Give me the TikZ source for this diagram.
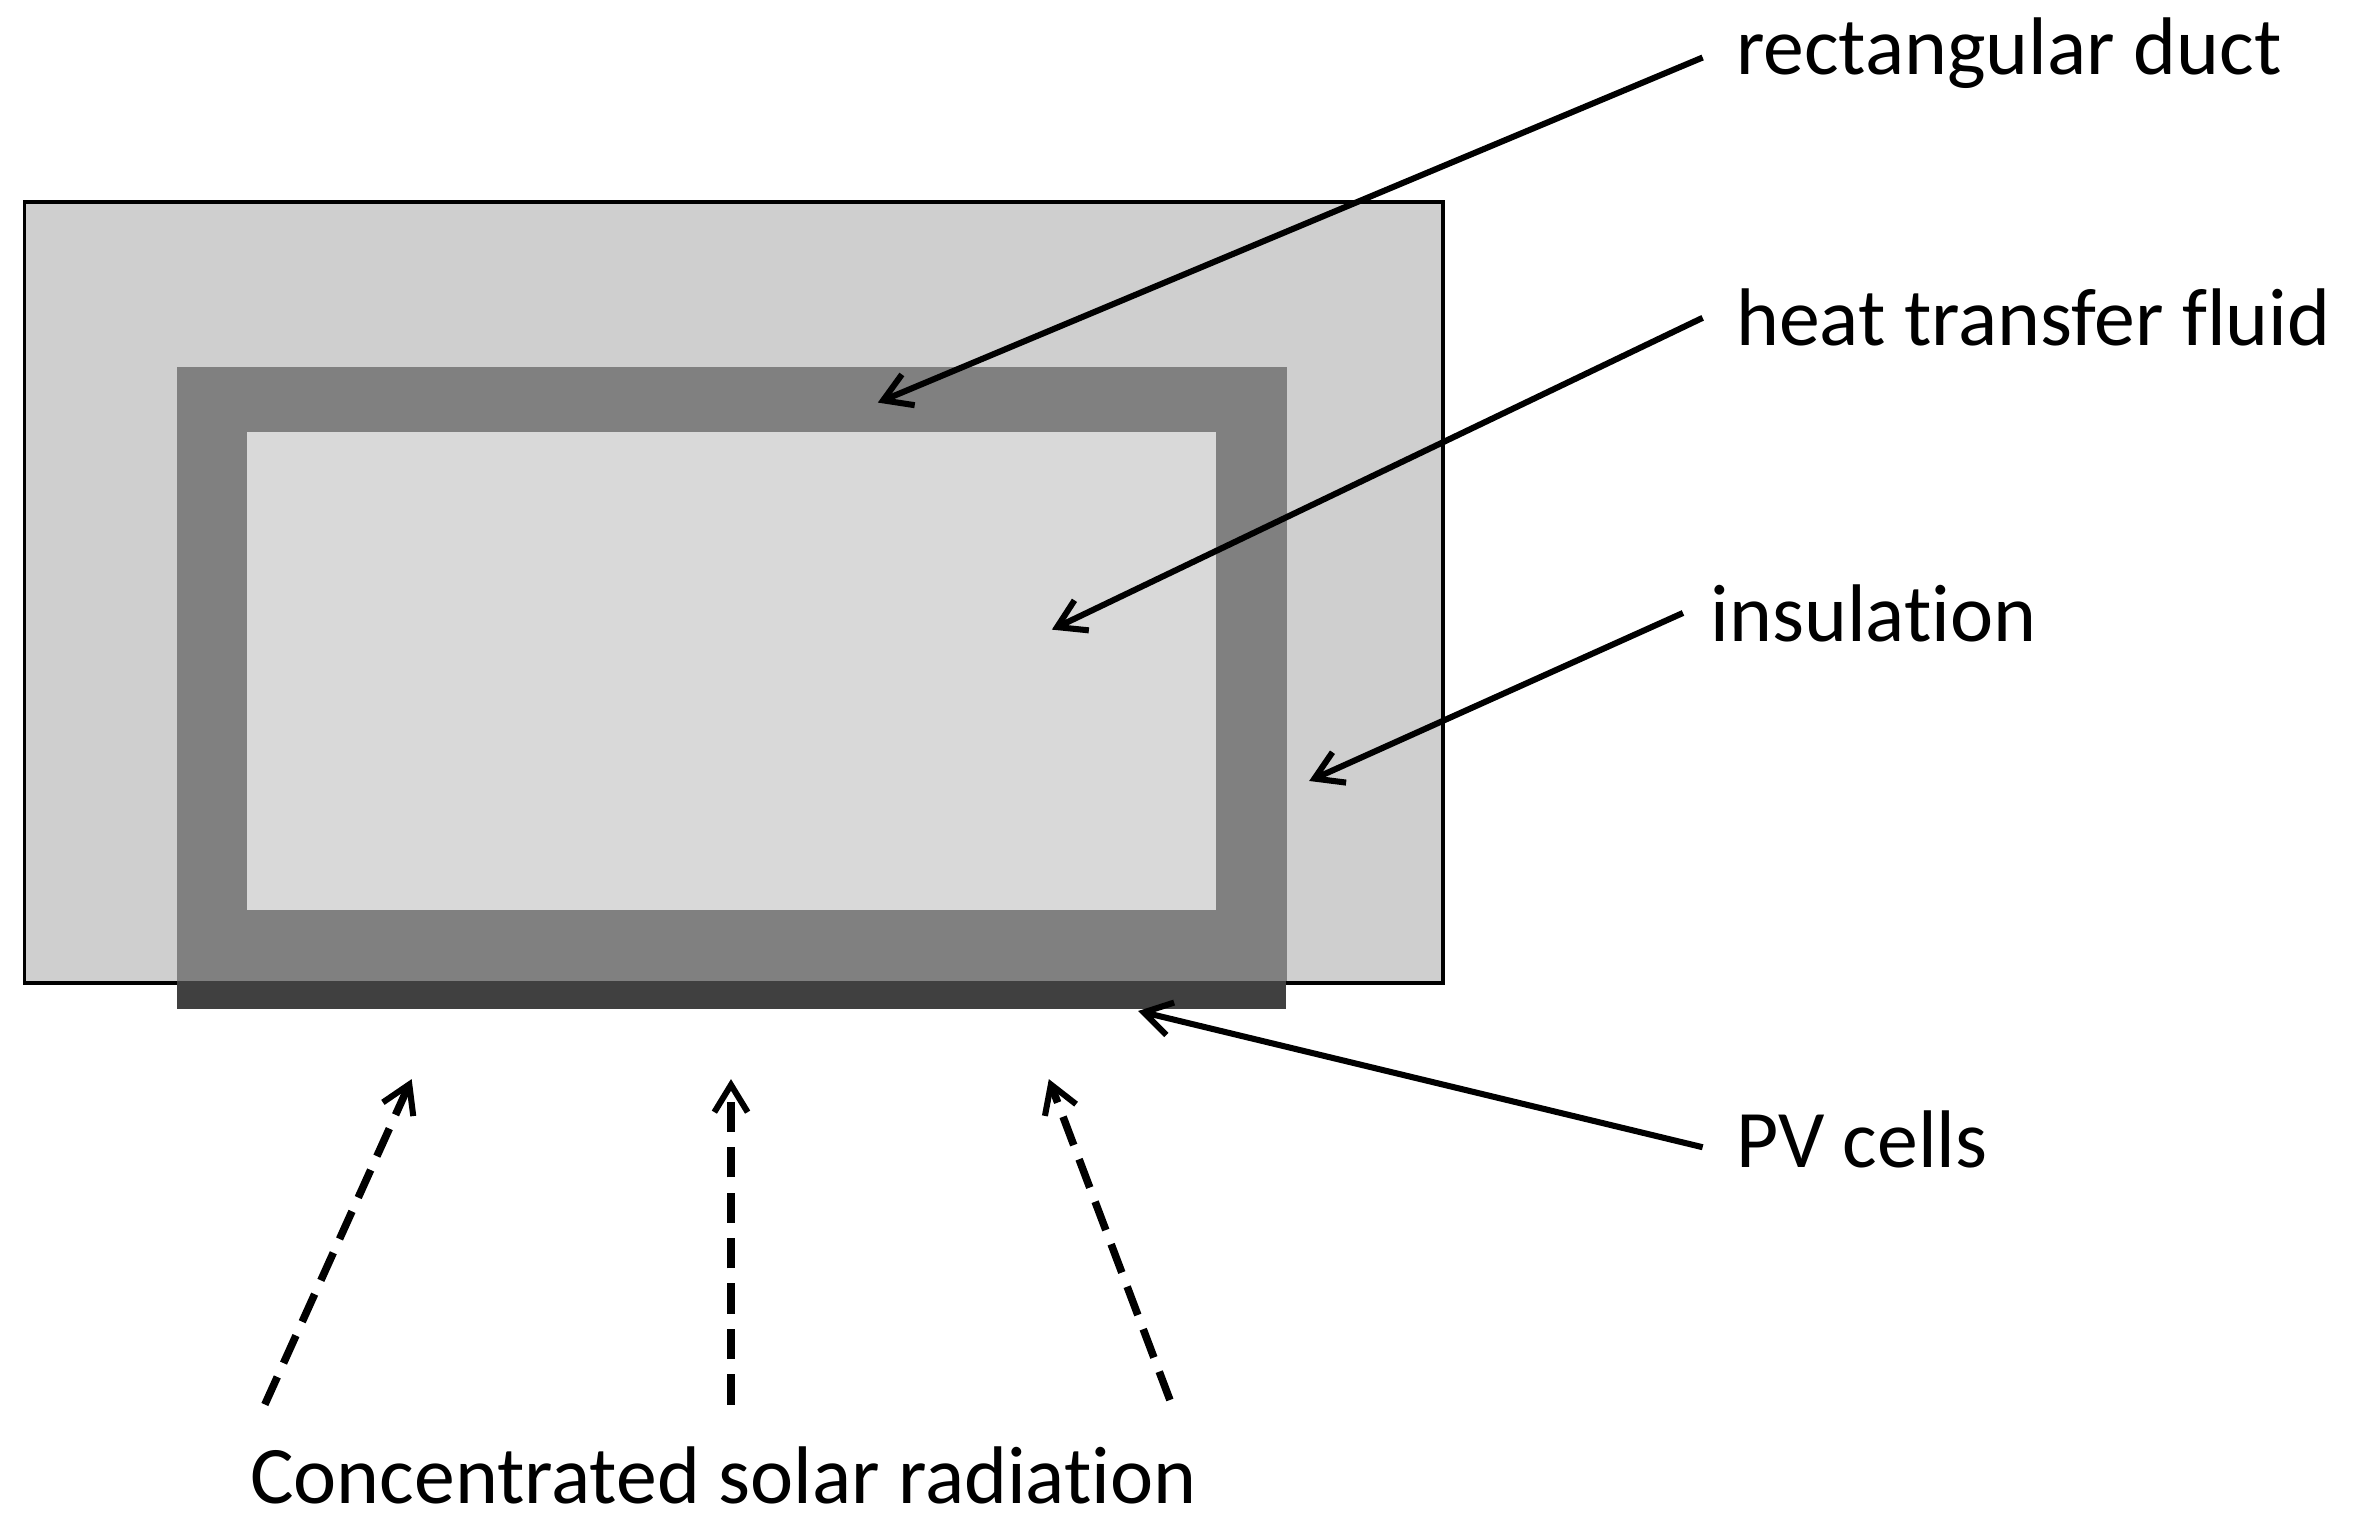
\documentclass[tikz,border=0pt]{standalone}
\usepackage{fontspec}
\setmainfont{Carlito}[RawFeature=-liga]
\usetikzlibrary{arrows.meta}
\begin{document}
\begin{tikzpicture}[x=1pt,y=-1pt,
 lab/.style={anchor=west,inner sep=0pt,font=\fontsize{54}{60}\selectfont},
 arr/.style={line width=4pt,-{Straight Barb[length=18pt,width=22pt,line width=4pt]}},
 darr/.style={arr,line width=5pt,dash pattern=on 20pt off 10pt}]
\useasboundingbox (0,0) rectangle (1560,1004);
\fill[white] (0,0) rectangle (1560,1004);
\node[draw=black,line width=2.5pt,fill=gray!38,minimum width=937pt,minimum height=516pt,anchor=north west,inner sep=0pt] (ins) at (15,132) {};
\node[fill=black!50,minimum width=733pt,minimum height=406pt,anchor=north west,inner sep=0pt] (duct) at (117,242) {};
\fill[black!75] (117,648) rectangle (850,667);
\node[fill=black!15,minimum width=640pt,minimum height=316pt,anchor=north west,inner sep=0pt] (fluid) at (163,285) {};
\node[lab] (t1) at (1147,35) {rectangular duct};
\node[lab] (t2) at (1147,210) {heat transfer fluid};
\node[lab] (t3) at (1130,405) {insulation};
\node[lab] (t4) at (1147,753) {PV cells};
\node[inner sep=0pt,font=\fontsize{54}{60}\selectfont] (t5) at (478,975) {Concentrated solar radiation};
\coordinate (a1) at (580,266);
\coordinate (a2) at (695,416);
\coordinate (a3) at (865,516);
\coordinate (a4) at (752,668);
\coordinate (s1a) at (175,928); \coordinate (s1b) at (272,713);
\coordinate (s2a) at (483,928); \coordinate (s2b) at (483,713);
\coordinate (s3a) at (773,925); \coordinate (s3b) at (693,713);
\draw[arr] ([xshift=-22pt,yshift=-3pt]t1.west) -- (a1);
\draw[arr] ([xshift=-22pt]t2.west) -- (a2);
\draw[arr] ([xshift=-18pt]t3.west) -- (a3);
\draw[arr] ([xshift=-22pt,yshift=-5pt]t4.west) -- (a4);
\draw[darr] (s1a) -- (s1b);
\draw[darr] (s2a) -- (s2b);
\draw[darr] (s3a) -- (s3b);
\end{tikzpicture}
\end{document}
